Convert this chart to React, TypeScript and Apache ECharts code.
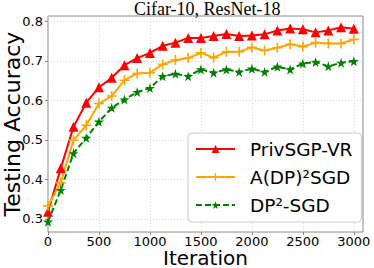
import React, { useEffect, useRef } from "react";
import * as echarts from "echarts";

const iterations = [0, 125, 250, 375, 500, 625, 750, 875, 1000, 1125, 1250, 1375, 1500, 1625, 1750, 1875, 2000, 2125, 2250, 2375, 2500, 2625, 2750, 2875, 3000];
const privSGPVR = [0.318, 0.428, 0.533, 0.594, 0.633, 0.657, 0.689, 0.707, 0.72, 0.738, 0.746, 0.758, 0.758, 0.763, 0.768, 0.763, 0.764, 0.767, 0.777, 0.782, 0.78, 0.772, 0.777, 0.785, 0.781];
const aDP2SGD = [0.333, 0.392, 0.499, 0.537, 0.592, 0.611, 0.651, 0.668, 0.67, 0.691, 0.702, 0.707, 0.72, 0.708, 0.723, 0.723, 0.734, 0.726, 0.733, 0.742, 0.736, 0.746, 0.744, 0.744, 0.754];
const dp2SGD = [0.293, 0.373, 0.466, 0.505, 0.546, 0.581, 0.602, 0.621, 0.631, 0.661, 0.667, 0.661, 0.678, 0.67, 0.678, 0.672, 0.68, 0.672, 0.685, 0.678, 0.693, 0.697, 0.686, 0.695, 0.699];
const seriesNames = ["PrivSGP-VR", "A(DP)²SGD", "DP²-SGD"];
const xTicks = [0, 500, 1000, 1500, 2000, 2500, 3000];
const yTicks = [0.3, 0.4, 0.5, 0.6, 0.7, 0.8];

const PLUS = "path://M4.2,0H5.8V4.2H10V5.8H5.8V10H4.2V5.8H0V4.2H4.2Z";
const STAR = "path://M50,0L61,35L98,35L68,57L79,91L50,70L21,91L32,57L2,35L39,35Z";

export default function App() {
  const ref = useRef<HTMLDivElement>(null);
  useEffect(() => {
    if (!ref.current) return;
    const chart = echarts.init(ref.current, null, { renderer: "svg" });
    const pair = (ys: number[]) => iterations.map((x, i) => [x, ys[i]]);
    const tickFont = { fontFamily: "DejaVu Sans", fontSize: 13, color: "#000" };
    chart.setOption({
      animation: false,
      backgroundColor: "#fff",
      title: {
        text: "Cifar-10, ResNet-18",
        left: 134,
        top: 0,
        padding: 0,
        textStyle: { fontFamily: "Liberation Serif", fontSize: 18, fontWeight: "normal", color: "#000" },
      },
      grid: {
        left: 48, right: 11, top: 16, bottom: 36,
        outerBoundsMode: "none",
        containLabel: false,
        show: true, borderColor: "#888", borderWidth: 1, backgroundColor: "transparent",
      },
      xAxis: {
        type: "value",
        min: 0,
        max: 3090,
        name: "Iteration",
        nameLocation: "middle",
        nameGap: 16,
        nameMoveOverlap: false,
        nameTextStyle: { fontFamily: "DejaVu Sans", fontSize: 20, color: "#000", verticalAlign: "top", lineHeight: 19 },
        axisLine: { show: false },
        axisTick: { show: true, length: 3, lineStyle: { color: "#888" }, customValues: xTicks },
        axisLabel: { ...tickFont, margin: 3, lineHeight: 13, customValues: xTicks, formatter: (v: number) => String(v) },
        splitLine: { show: true, lineStyle: { color: "#ccc", type: [1, 2], width: 0.8 } },
      },
      yAxis: {
        type: "value",
        min: 0.267,
        max: 0.8134,
        name: "Testing Accuracy",
        nameLocation: "middle",
        nameGap: 25,
        nameMoveOverlap: false,
        nameTextStyle: { fontFamily: "DejaVu Sans", fontSize: 22, color: "#000" },
        axisLine: { show: false },
        axisTick: { show: true, length: 3, lineStyle: { color: "#888" }, customValues: yTicks },
        axisLabel: { ...tickFont, margin: 5, customValues: yTicks, formatter: (v: number) => v.toFixed(1) },
        splitLine: { show: true, lineStyle: { color: "#ccc", type: [1, 2], width: 0.8 } },
      },
      legend: {
        orient: "vertical",
        left: 188,
        top: 133,
        padding: [6, 9, 7, 7],
        itemGap: 8,
        itemWidth: 39,
        itemHeight: 10,
        borderColor: "#ccc",
        borderWidth: 1,
        borderRadius: 4,
        backgroundColor: "rgba(255,255,255,0.8)",
        textStyle: { fontFamily: "DejaVu Sans", fontSize: 18.5, color: "#000", lineHeight: 20, padding: [0, 0, 0, 10] },
        data: seriesNames,
      },
      series: [
        {
          name: seriesNames[0],
          type: "line",
          data: pair(privSGPVR),
          symbol: "triangle",
          symbolSize: 10,
          showAllSymbol: true,
          itemStyle: { color: "#ff0000" },
          lineStyle: { color: "#ff0000", width: 2 },
        },
        {
          name: seriesNames[1],
          type: "line",
          data: pair(aDP2SGD),
          symbol: PLUS,
          symbolSize: 10,
          showAllSymbol: true,
          itemStyle: { color: "#ffa500" },
          lineStyle: { color: "#ffa500", width: 2 },
        },
        {
          name: seriesNames[2],
          type: "line",
          data: pair(dp2SGD),
          symbol: STAR,
          symbolSize: 10,
          showAllSymbol: true,
          itemStyle: { color: "#008000" },
          lineStyle: { color: "#008000", width: 2, type: [6, 3] },
        },
      ],
    });
    return () => chart.dispose();
  }, []);
  return <div ref={ref} style={{ position: "fixed", left: 0, top: 0, width: 374, height: 268 }} />;
}
